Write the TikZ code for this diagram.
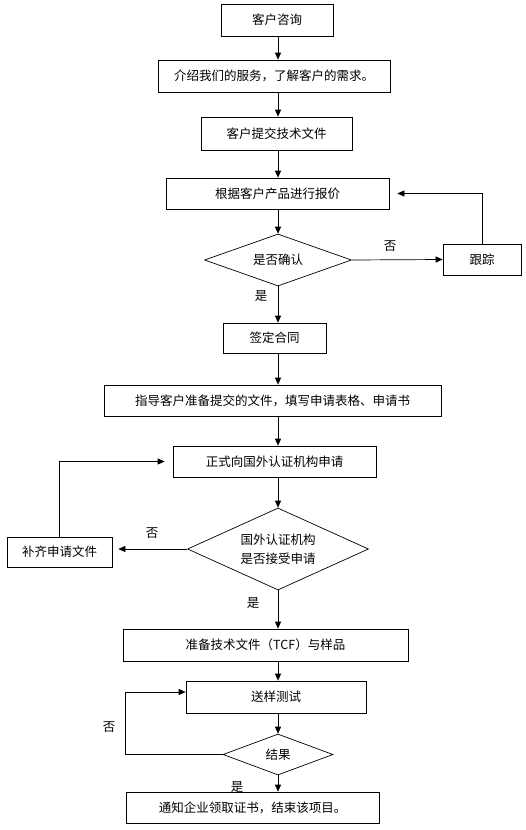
\documentclass[tikz,border=0pt]{standalone}
\usepackage{fontspec}
\setmainfont{Noto Sans CJK SC}
\usepackage{tikz}
\usetikzlibrary{arrows.meta,shapes.geometric}

\begin{document}
\begin{tikzpicture}[x=1pt,y=-1pt,line width=0.7pt,
  font=\fontsize{12.5pt}{15pt}\selectfont,
  box/.style={draw,rectangle,inner sep=0pt},
  dia/.style={draw,diamond,inner sep=0pt,align=center},
  arr/.style={-{Triangle[length=7pt,width=6pt]}},
  lab/.style={inner sep=0pt}]
\useasboundingbox (0,0) rectangle (526,830);
\coordinate (ax) at (278,0);
\node[box,minimum width=112,minimum height=32] (n1) at (277,20) {客户咨询};
\node[box,minimum width=232,minimum height=32] (n2) at (274,76) {介绍我们的服务，了解客户的需求。};
\node[box,minimum width=151,minimum height=33] (n3) at (276.5,133.5) {客户提交技术文件};
\node[box,minimum width=223,minimum height=31] (n4) at (277.5,193.5) {根据客户产品进行报价};
\node[dia,aspect=2.8,minimum width=147,minimum height=52] (d1) at (278,260) {是否确认};
\node[box,minimum width=78,minimum height=31] (r1) at (482,259.5) {跟踪};
\node[box,minimum width=103,minimum height=30] (n5) at (274.5,338) {签定合同};
\node[box,minimum width=337,minimum height=31] (n6) at (272.5,400.5) {指导客户准备提交的文件，填写申请表格、申请书};
\node[box,minimum width=203,minimum height=31] (n7) at (274.5,461.5) {正式向国外认证机构申请};
\node[dia,aspect=2.2,minimum width=181,minimum height=82] (d2) at (278,549) {国外认证机构\\[4pt]是否接受申请};
\node[box,minimum width=105,minimum height=30] (r2) at (59.5,552) {补齐申请文件};
\node[box,minimum width=285,minimum height=32] (n8) at (265.5,645) {准备技术文件（TCF）与样品};
\node[box,minimum width=180,minimum height=32] (n9) at (276,697) {送样测试};
\node[dia,aspect=2.7,minimum width=110,minimum height=41] (d3) at (278,754.5) {结果};
\node[box,minimum width=253,minimum height=31] (n10) at (252.5,807.5) {通知企业领取证书，结束该项目。};
\foreach \a/\b in {n1/n2,n2/n3,n3/n4,n4/d1,d1/n5,n5/n6,n6/n7,n7/d2,d2/n8,n8/n9,n9/d3,d3/n10}
    \draw[arr] (\a.south -| ax) -- (\b.north -| ax);
\draw[arr] (d1.east) -- (r1.west);
\draw[arr,shorten >=8pt] (r1.north) |- (n4.east);
\draw[arr,shorten >=6pt] (d2.west) -- (d2.west -| r2.east);
\draw[arr,shorten >=8pt] (r2.north) |- (n7.west);
\coordinate (c3) at (125,754.5);
\draw[arr] (d3.west) -- (c3) |- ([yshift=5pt]n9.west);
\node[lab] (l1) at (390,246) {否};
\node[lab] (l2) at (261,296) {是};
\node[lab] (l3) at (152,533) {否};
\node[lab] (l4) at (253,603) {是};
\node[lab] (l5) at (109,727) {否};
\node[lab] (l6) at (237,787) {是};
\end{tikzpicture}
\end{document}
